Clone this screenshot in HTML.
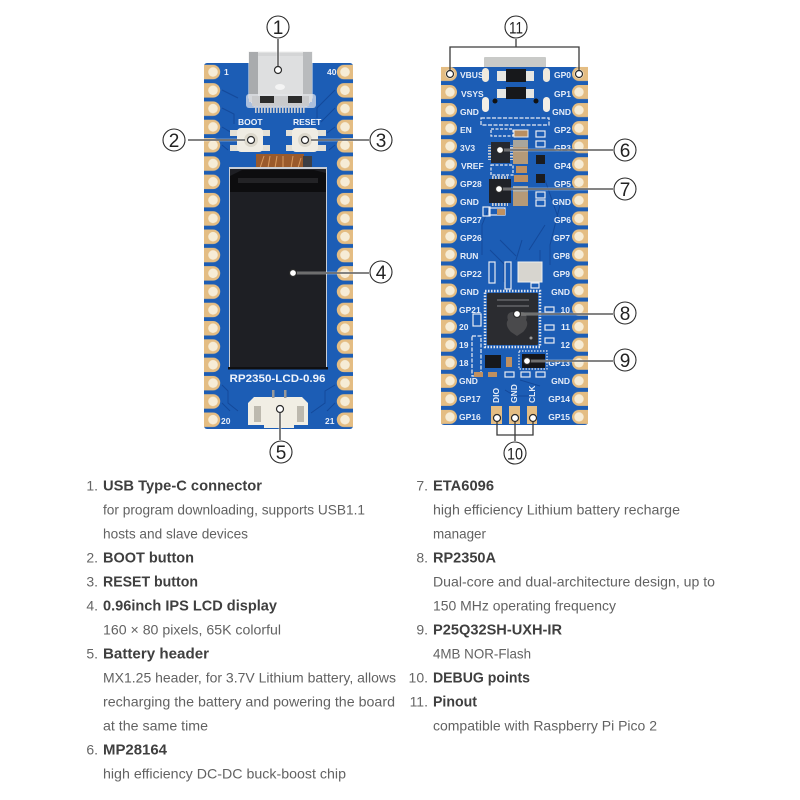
<!DOCTYPE html>
<html><head><meta charset="utf-8"><title>RP2350-LCD-0.96</title>
<style>
html,body{margin:0;padding:0;background:#fff}
svg{display:block}
.l{font:400 14px "Liberation Sans",sans-serif;fill:#626262}
.b{font:700 15px "Liberation Sans",sans-serif;fill:#3f3f3f}
.n{font:400 14px "Liberation Sans",sans-serif;fill:#666;text-anchor:end}
.c{font:400 19px "Liberation Sans",sans-serif;fill:#222;text-anchor:middle}
.p{font:700 8.5px "Liberation Sans",sans-serif;fill:#e6edf8}
.pr{text-anchor:end}
.dot{fill:#fff;stroke:#2b2b2b;stroke-width:1.2}
.ring{fill:#fff;stroke:#2b2b2b;stroke-width:1.1}
.leadw{fill:none;stroke:#fff;stroke-width:2.6;opacity:.75}
.lead{fill:none;stroke:#3a3a3a;stroke-width:1.3}
.tr{fill:none;stroke:#14499a;stroke-width:1}
.sm{fill:none;stroke:#e8ecf3;stroke-width:1.200}
</style></head><body>
<svg width="800" height="800" viewBox="0 0 800 800" xmlns="http://www.w3.org/2000/svg">
<defs>
<pattern id="pl" patternUnits="userSpaceOnUse" x="204" y="62.85" width="20" height="18.3">
<path d="M0 2H9a7.2 7.2 0 0 1 0 14.4H0Z" fill="#e4bd83"/><circle cx="9" cy="9.15" r="4.8" fill="#f6ecd6"/></pattern>
<pattern id="pr" patternUnits="userSpaceOnUse" x="333" y="62.85" width="20" height="18.3">
<path d="M20 2H11a7.2 7.2 0 0 0 0 14.4H20Z" fill="#e4bd83"/><circle cx="12" cy="9.15" r="4.8" fill="#f6ecd6"/></pattern>
<pattern id="ql" patternUnits="userSpaceOnUse" x="441" y="65" width="20" height="18.05">
<path d="M0 2H9a7 7 0 0 1 0 14H0Z" fill="#e4bd83"/><circle cx="9" cy="9" r="4.7" fill="#f6ecd6"/></pattern>
<pattern id="qr" patternUnits="userSpaceOnUse" x="568" y="65" width="20" height="18.05">
<path d="M20 2H11a7 7 0 0 0 0 14H20Z" fill="#e4bd83"/><circle cx="11" cy="9" r="4.7" fill="#f6ecd6"/></pattern>
<pattern id="pins" patternUnits="userSpaceOnUse" width="3" height="3"><rect width="1.6" height="3" fill="#c9ccd2"/></pattern>
<pattern id="pinsh" patternUnits="userSpaceOnUse" width="3" height="3"><rect width="3" height="1.6" fill="#c9ccd2"/></pattern>
</defs>

<!-- LEFT BOARD -->
<rect x="204" y="63" width="149" height="366" rx="3" fill="#1c5db5"/>
<rect x="204" y="63" width="20" height="366" fill="url(#pl)"/>
<rect x="333" y="63" width="20" height="366" fill="url(#pr)"/>
<g class="tr">
<path d="M222 90l16 8M222 108l12 6v10M222 127l10 6M222 145l6 5M335 90l-18 18v10M335 108l-14 14M335 127l-8 6M335 145l-6 5"/>
<path d="M222 385l6 6v12l10 8M222 403l8 8M335 385l-10 6v12l-14 10M335 403l-8 8"/>
</g>
<!-- USB -->
<path d="M249 52H312V98l-5 8H254l-5-8Z" fill="#d4d5d6" stroke="#eeeeee"/>
<rect x="249" y="52" width="9" height="50" fill="#a9abad"/>
<rect x="303" y="52" width="9" height="50" fill="#b9bbbd"/>
<rect x="258" y="56" width="45" height="38" fill="#dedfe0"/>
<rect x="246" y="94" width="70" height="14" rx="3" fill="#e8eaee" opacity=".7"/>
<rect x="252" y="96" width="57" height="10" fill="#c9cacc"/>
<rect x="260" y="96" width="14" height="7" fill="#2c2c2c"/>
<rect x="288" y="96" width="14" height="7" fill="#2c2c2c"/>
<rect x="255" y="105" width="51" height="8" fill="url(#pins)"/>
<ellipse cx="280" cy="87" rx="5" ry="3" fill="#f4f4f4"/>
<!-- Buttons -->
<text x="238" y="125" style="font:700 8.5px 'Liberation Sans',sans-serif" fill="#eef3fb">BOOT</text>
<text x="293" y="125" style="font:700 8.5px 'Liberation Sans',sans-serif" fill="#eef3fb">RESET</text>
<rect x="230" y="130" width="40" height="6" fill="#e3e0d6"/><rect x="230" y="145" width="40" height="6" fill="#e3e0d6"/>
<rect x="237" y="128" width="26" height="24" rx="4" fill="#efece3"/><circle cx="251" cy="140" r="7" fill="#dcd8cc"/>
<rect x="286" y="130" width="40" height="6" fill="#e3e0d6"/><rect x="286" y="145" width="40" height="6" fill="#e3e0d6"/>
<rect x="292" y="128" width="26" height="24" rx="4" fill="#efece3"/><circle cx="305" cy="140" r="7" fill="#dcd8cc"/>
<!-- Ribbon + LCD -->
<rect x="256" y="154" width="48" height="15" fill="#9a5a2c"/>
<path d="M260 168l4-12M268 168l2-12M275 168l2-12M283 168l0-12M291 168l2-12M298 168l3-10" stroke="#d99a60" stroke-width="1" fill="none"/>
<rect x="303" y="156" width="9" height="12" fill="#3d3f45"/>
<rect x="229" y="167" width="98" height="202" fill="#c9ced6"/>
<rect x="230" y="169" width="96" height="199" fill="#1e1f24"/>
<path d="M230 192V176l12-6H314l12 3V192Z" fill="#0d0d0f"/>
<rect x="238" y="178" width="80" height="5" fill="#232326"/>
<rect x="228" y="367" width="100" height="2.5" fill="#101012"/>
<text x="277.500" y="382" text-anchor="middle" textLength="96" lengthAdjust="spacingAndGlyphs" style="font:700 11px 'Liberation Sans',sans-serif" fill="#eef3fb">RP2350-LCD-0.96</text>
<!-- Battery connector -->
<path d="M248 403l6-6h48l6 6v22h-14v3h-30v-3h-16Z" fill="#f1eee4"/>
<rect x="254" y="406" width="7" height="16" fill="#bdb9ae"/><rect x="297" y="406" width="7" height="16" fill="#bdb9ae"/>
<rect x="272" y="390" width="2.500" height="8" fill="#999"/><rect x="284" y="390" width="2.500" height="8" fill="#999"/>
<text x="224" y="75" class="p">1</text><text x="327" y="75" class="p">40</text>
<text x="221" y="424" class="p">20</text><text x="325" y="424" class="p">21</text>

<!-- RIGHT BOARD -->
<rect x="484" y="57" width="62" height="12" rx="1" fill="#c9cac8"/>
<rect x="441" y="67" width="147" height="358" rx="3" fill="#1c5db5"/>
<rect x="441" y="65" width="20" height="361" fill="url(#ql)"/>
<rect x="568" y="65" width="20" height="361" fill="url(#qr)"/>
<g class="tr"><path d="M490 250l14 14v18M500 240l16 16M522 240l-6 20M540 250v30M490 205l-8 20v30M560 205l-10 40v20M545 180l14 40M545 225l-16 25M505 390l10 6h18M520 380l20 6"/></g>
<!-- top slots + diodes -->
<rect x="482" y="68" width="7" height="14" rx="3.500" fill="#efe9dc"/><rect x="543" y="68" width="7" height="14" rx="3.500" fill="#efe9dc"/>
<rect x="482" y="97" width="7" height="15" rx="3.500" fill="#f4efe6"/><rect x="543" y="97" width="7" height="15" rx="3.500" fill="#f4efe6"/>
<rect x="497" y="71" width="37" height="10" fill="#e6e6e2"/><rect x="506" y="69" width="20" height="13" fill="#17181b"/>
<rect x="497" y="89" width="37" height="9" fill="#e6e6e2"/><rect x="506" y="87" width="20" height="12" fill="#17181b"/>
<circle cx="495" cy="101" r="2.500" fill="#111"/><circle cx="536" cy="101" r="2.500" fill="#111"/>
<!-- small parts -->
<rect x="481" y="118" width="68" height="7" class="sm" stroke-dasharray="4 1.500"/>
<rect x="491" y="129" width="22" height="7" class="sm" stroke-dasharray="3 1.500"/>
<rect x="514" y="130" width="14" height="7" fill="#b98f62" stroke="#e8ecf3"/>
<rect x="536" y="131" width="9" height="6" class="sm"/><rect x="536" y="141" width="9" height="6" class="sm"/>
<rect x="513" y="140" width="15" height="24" fill="#b59a78"/><rect x="513" y="140" width="15" height="7" fill="#a9a69c"/>
<rect x="513" y="186" width="15" height="20" fill="#b59a78"/><rect x="513" y="186" width="15" height="6" fill="#a9a69c"/>
<rect x="516" y="166" width="11" height="7" fill="#c09060"/><rect x="514" y="175" width="14" height="7" fill="#c09060"/>
<rect x="536" y="155" width="9" height="9" fill="#1b1c20"/><rect x="536" y="174" width="9" height="9" fill="#1b1c20"/>
<rect x="491" y="165" width="22" height="10" class="sm" stroke-dasharray="3 1.500"/>
<rect x="536" y="192" width="9" height="6" class="sm"/><rect x="536" y="200" width="9" height="6" class="sm"/>
<rect x="483" y="207" width="7" height="9" class="sm"/><rect x="489" y="208" width="16" height="7" class="sm"/><rect x="497" y="209" width="8" height="6" fill="#c09060"/>
<rect x="491" y="142" width="19" height="21" fill="#25282f"/>
<rect x="488" y="145" width="3" height="15" fill="url(#pinsh)"/><rect x="510" y="145" width="3" height="15" fill="url(#pinsh)"/>
<rect x="489" y="179" width="22" height="24" fill="#1f2127"/>
<rect x="492" y="176" width="16" height="3" fill="url(#pins)"/><rect x="492" y="203" width="16" height="3" fill="url(#pins)"/>
<!-- crystal + parts above RP2350 -->
<rect x="518" y="262" width="24" height="20" fill="#d7d5cf" stroke="#eee"/>
<rect x="489" y="262" width="6" height="21" class="sm"/><rect x="505" y="262" width="6" height="27" class="sm"/>
<rect x="531" y="283" width="8" height="5" class="sm"/>
<!-- RP2350 -->
<rect x="485" y="291" width="55" height="56" fill="none" stroke="#dfe3ea" stroke-width="2.500" stroke-dasharray="1.500 1.500"/>
<rect x="487" y="293" width="51" height="52" rx="1" fill="#2b2c30"/>
<path d="M517 313c-8-3-11 2-9 7-3 4 0 9 3 12l6 4 6-4c3-3 6-8 3-12 2-5-1-10-9-7Z" fill="#4a4a4c"/>
<rect x="497" y="299" width="32" height="2" fill="#55565a"/><rect x="497" y="305" width="32" height="2" fill="#55565a"/>
<circle cx="531" cy="338" r="1.500" fill="#999"/>
<rect x="473" y="314" width="8" height="12" class="sm"/>
<rect x="545" y="307" width="9" height="5" class="sm"/><rect x="545" y="325" width="9" height="5" class="sm"/><rect x="545" y="338" width="9" height="5" class="sm"/>
<rect x="472" y="336" width="9" height="40" class="sm" stroke-dasharray="4 1.500"/>
<rect x="485" y="355" width="16" height="13" fill="#16181d"/>
<rect x="506" y="357" width="6" height="10" fill="#c09060"/>
<rect x="474" y="372" width="9" height="5" fill="#c09060"/><rect x="488" y="372" width="9" height="5" fill="#c09060"/>
<rect x="505" y="372" width="9" height="5" class="sm"/>
<rect x="521" y="372" width="9" height="5" class="sm"/><rect x="536" y="372" width="9" height="5" class="sm"/>
<rect x="519" y="351" width="28" height="18" class="sm" stroke-dasharray="1.500 1.500"/>
<rect x="522" y="354" width="23" height="14" fill="#15161a"/>
<!-- debug pads -->
<rect x="491" y="406" width="11" height="18" fill="#e4bd83"/><rect x="509" y="406" width="11" height="18" fill="#e4bd83"/><rect x="527" y="406" width="10" height="18" fill="#e4bd83"/>
<text transform="translate(499 403) rotate(-90)" class="p">DIO</text>
<text transform="translate(517 403) rotate(-90)" class="p">GND</text>
<text transform="translate(535 403) rotate(-90)" class="p">CLK</text>
<!-- pin labels left -->
<text x="460" y="78" class="p">VBUS</text><text x="461" y="97" class="p">VSYS</text><text x="460" y="115" class="p">GND</text><text x="460" y="133" class="p">EN</text><text x="460" y="151" class="p">3V3</text><text x="461" y="169" class="p">VREF</text><text x="460" y="187" class="p">GP28</text><text x="460" y="205" class="p">GND</text><text x="460" y="223" class="p">GP27</text><text x="460" y="241" class="p">GP26</text><text x="460" y="259" class="p">RUN</text><text x="460" y="277" class="p">GP22</text><text x="460" y="295" class="p">GND</text><text x="459" y="313" class="p">GP21</text><text x="459" y="330" class="p">20</text><text x="459" y="348" class="p">19</text><text x="459" y="366" class="p">18</text><text x="459" y="384" class="p">GND</text><text x="459" y="402" class="p">GP17</text><text x="459" y="420" class="p">GP16</text>
<!-- pin labels right -->
<text x="571" y="78" class="p pr">GP0</text><text x="571" y="97" class="p pr">GP1</text><text x="571" y="115" class="p pr">GND</text><text x="571" y="133" class="p pr">GP2</text><text x="571" y="151" class="p pr">GP3</text><text x="571" y="169" class="p pr">GP4</text><text x="571" y="187" class="p pr">GP5</text><text x="571" y="205" class="p pr">GND</text><text x="571" y="223" class="p pr">GP6</text><text x="570" y="241" class="p pr">GP7</text><text x="570" y="259" class="p pr">GP8</text><text x="570" y="277" class="p pr">GP9</text><text x="570" y="295" class="p pr">GND</text><text x="570" y="313" class="p pr">10</text><text x="570" y="330" class="p pr">11</text><text x="570" y="348" class="p pr">12</text><text x="570" y="366" class="p pr">GP13</text><text x="570" y="384" class="p pr">GND</text><text x="570" y="402" class="p pr">GP14</text><text x="570" y="420" class="p pr">GP15</text>

<!-- LEADERS -->
<path class="leadw" d="M278 39V66M188 140H245M311 140H369M296 273H369M280 413V440M504 150H613M503 189H613M521 314H613M531 361H613"/>
<path class="lead" d="M278 39V66M188 140H245M311 140H369M296 273H369M280 413V440M516 39V47M450 71V47H579V71M504 150H613M503 189H613M521 314H613M531 361H613M497 421V435H533V421M515 421V441"/>
<circle class="dot" cx="278" cy="70" r="3.500"/><circle class="dot" cx="251" cy="140" r="3.500"/><circle class="dot" cx="305" cy="140" r="3.500"/><circle class="dot" cx="293" cy="273" r="3.500"/><circle class="dot" cx="280" cy="409" r="3.500"/>
<circle class="dot" cx="450" cy="74" r="3.500"/><circle class="dot" cx="579" cy="74" r="3.500"/><circle class="dot" cx="500" cy="150" r="3.500"/><circle class="dot" cx="499" cy="189" r="3.500"/><circle class="dot" cx="517" cy="314" r="3.500"/><circle class="dot" cx="527" cy="361" r="3.500"/><circle class="dot" cx="497" cy="418" r="3.500"/><circle class="dot" cx="515" cy="418" r="3.500"/><circle class="dot" cx="533" cy="418" r="3.500"/>
<!-- CALLOUTS -->
<circle class="ring" cx="278" cy="27" r="11"/><text class="c" x="278" y="34">1</text>
<circle class="ring" cx="174" cy="140" r="11"/><text class="c" x="174" y="147">2</text>
<circle class="ring" cx="381" cy="140" r="11"/><text class="c" x="381" y="147">3</text>
<circle class="ring" cx="381" cy="272" r="11"/><text class="c" x="381" y="279">4</text>
<circle class="ring" cx="281" cy="452" r="11"/><text class="c" x="281" y="459">5</text>
<circle class="ring" cx="625" cy="150" r="11"/><text class="c" x="625" y="157">6</text>
<circle class="ring" cx="625" cy="189" r="11"/><text class="c" x="625" y="196">7</text>
<circle class="ring" cx="625" cy="313" r="11"/><text class="c" x="625" y="320">8</text>
<circle class="ring" cx="625" cy="360" r="11"/><text class="c" x="625" y="367">9</text>
<circle class="ring" cx="515" cy="453" r="11"/><text class="c" x="515" y="459.500" textLength="16" lengthAdjust="spacingAndGlyphs" style="font-size:17px">10</text>
<circle class="ring" cx="516" cy="27" r="11"/><text class="c" x="516" y="33.500" textLength="14" lengthAdjust="spacingAndGlyphs" style="font-size:17px">11</text>

<!-- LIST LEFT -->
<text class="n" x="98" y="490.500">1.</text><text class="b" x="103" y="490.500" textLength="159" lengthAdjust="spacingAndGlyphs">USB Type-C connector</text>
<text class="l" x="103" y="514.500" textLength="262" lengthAdjust="spacingAndGlyphs">for program downloading, supports USB1.1</text>
<text class="l" x="103" y="538.500" textLength="145" lengthAdjust="spacingAndGlyphs">hosts and slave devices</text>
<text class="n" x="98" y="562.500">2.</text><text class="b" x="103" y="562.500" textLength="91" lengthAdjust="spacingAndGlyphs">BOOT button</text>
<text class="n" x="98" y="586.500">3.</text><text class="b" x="103" y="586.500" textLength="95" lengthAdjust="spacingAndGlyphs">RESET button</text>
<text class="n" x="98" y="610.500">4.</text><text class="b" x="103" y="610.500" textLength="174" lengthAdjust="spacingAndGlyphs">0.96inch IPS LCD display</text>
<text class="l" x="103" y="634.500" textLength="178" lengthAdjust="spacingAndGlyphs">160 × 80 pixels, 65K colorful</text>
<text class="n" x="98" y="658.500">5.</text><text class="b" x="103" y="658.500" textLength="106" lengthAdjust="spacingAndGlyphs">Battery header</text>
<text class="l" x="103" y="682.500" textLength="293" lengthAdjust="spacingAndGlyphs">MX1.25 header, for 3.7V Lithium battery, allows</text>
<text class="l" x="103" y="706.500" textLength="292" lengthAdjust="spacingAndGlyphs">recharging the battery and powering the board</text>
<text class="l" x="103" y="730.500" textLength="105" lengthAdjust="spacingAndGlyphs">at the same time</text>
<text class="n" x="98" y="754.500">6.</text><text class="b" x="103" y="754.500" textLength="64" lengthAdjust="spacingAndGlyphs">MP28164</text>
<text class="l" x="103" y="778.500" textLength="243" lengthAdjust="spacingAndGlyphs">high efficiency DC-DC buck-boost chip</text>
<!-- LIST RIGHT -->
<text class="n" x="428" y="490.500">7.</text><text class="b" x="433" y="490.500" textLength="61" lengthAdjust="spacingAndGlyphs">ETA6096</text>
<text class="l" x="433" y="514.500" textLength="247" lengthAdjust="spacingAndGlyphs">high efficiency Lithium battery recharge</text>
<text class="l" x="433" y="538.500" textLength="53" lengthAdjust="spacingAndGlyphs">manager</text>
<text class="n" x="428" y="562.500">8.</text><text class="b" x="433" y="562.500" textLength="63" lengthAdjust="spacingAndGlyphs">RP2350A</text>
<text class="l" x="433" y="586.500" textLength="282" lengthAdjust="spacingAndGlyphs">Dual-core and dual-architecture design, up to</text>
<text class="l" x="433" y="610.500" textLength="183" lengthAdjust="spacingAndGlyphs">150 MHz operating frequency</text>
<text class="n" x="428" y="634.500">9.</text><text class="b" x="433" y="634.500" textLength="129" lengthAdjust="spacingAndGlyphs">P25Q32SH-UXH-IR</text>
<text class="l" x="433" y="658.500" textLength="98" lengthAdjust="spacingAndGlyphs">4MB NOR-Flash</text>
<text class="n" x="428" y="682.500">10.</text><text class="b" x="433" y="682.500" textLength="97" lengthAdjust="spacingAndGlyphs">DEBUG points</text>
<text class="n" x="428" y="706.500">11.</text><text class="b" x="433" y="706.500" textLength="44" lengthAdjust="spacingAndGlyphs">Pinout</text>
<text class="l" x="433" y="730.500" textLength="224" lengthAdjust="spacingAndGlyphs">compatible with Raspberry Pi Pico 2</text>
</svg>
</body></html>
